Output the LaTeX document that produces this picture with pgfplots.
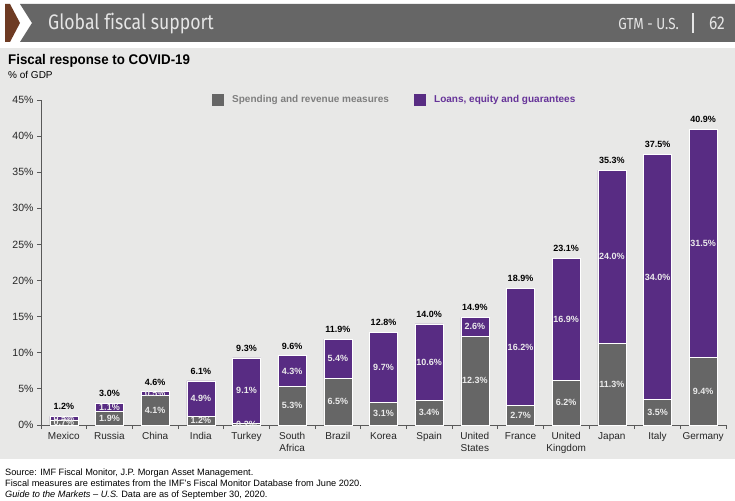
\documentclass[border=0pt]{standalone}
\usepackage{pgfplots}
\pgfplotsset{compat=1.18}
\usepackage{pgfplotstable}
\usepackage{fontspec}
\setmainfont{Liberation Sans}
\newfontfamily\hdrfont[FakeStretch=0.84,Ligatures=NoCommon]{Fira Sans}
\newfontfamily\titlefont[FakeStretch=0.95]{Liberation Sans}
\definecolor{barGray}{HTML}{666666}
\definecolor{barPurple}{HTML}{582C83}
\definecolor{panel}{HTML}{E8E8E7}
\definecolor{hdr}{HTML}{666666}
\definecolor{chev}{HTML}{6E3B23}
\definecolor{legGray}{HTML}{7F7F7F}
\definecolor{legPurple}{HTML}{663399}

\pgfplotstableread{
x S L T sm lm
0 0.7 0.5 1.2 0.35 0.95
1 1.9 1.1 3.0 0.95 2.45
2 4.1 0.5 4.6 2.05 4.35
3 1.2 4.9 6.1 0.6 3.65
4 0.2 9.1 9.3 0.1 4.75
5 5.3 4.3 9.6 2.65 7.45
6 6.5 5.4 11.9 3.25 9.2
7 3.1 9.7 12.8 1.55 7.95
8 3.4 10.6 14.0 1.7 8.7
9 12.3 2.6 14.9 6.15 13.6
10 2.7 16.2 18.9 1.35 10.8
11 6.2 16.9 23.1 3.1 14.65
12 11.3 24.0 35.3 5.65 23.3
13 3.5 34.0 37.5 1.75 20.5
14 9.4 31.5 40.9 4.7 25.15
}\data

\begin{document}
\begin{tikzpicture}[x=1pt,y=1pt]
\fill[white] (0,0) rectangle (735,500);
% header
\fill[hdr] (20,496) -- (735,496) -- (735,458) -- (20,458) -- (32,477) -- cycle;
\fill[chev] (5,496) -- (10,496) -- (20,477) -- (10,458) -- (5,458) -- cycle;
\node[anchor=base west, text=white!90!black, font=\hdrfont\fontsize{21}{23}\selectfont, inner sep=0] at (48,470) {Global fiscal support};
\node[anchor=base east, text=white!90!black, font=\hdrfont\fontsize{16}{18}\selectfont, inner sep=0] at (679,470) {GTM - U.S.};
\draw[white!90!black, line width=1.3pt] (693,467) -- (693,487);
\node[anchor=base east, text=white!90!black, font=\hdrfont\fontsize{18.5}{20}\selectfont, inner sep=0] at (725,470) {62};
% panel
\fill[panel] (0,41) rectangle (735,452);
\node[anchor=base west, font=\titlefont\bfseries\fontsize{14}{16}\selectfont, inner sep=0] at (8,435) {Fiscal response to COVID-19};
\node[anchor=base west, font=\fontsize{10}{12}\selectfont, inner sep=0] at (8,421) {\% of GDP};
% legend
\fill[barGray] (212,394) rectangle (224,406);
\node[anchor=west, text=legGray, font=\bfseries\fontsize{10}{12}\selectfont, inner sep=0] at (232,400) {Spending and revenue measures};
\fill[barPurple] (414,394) rectangle (426,406);
\node[anchor=west, text=legPurple, font=\bfseries\fontsize{10}{12}\selectfont, inner sep=0] at (434,400) {Loans, equity and guarantees};

\begin{axis}[
  at={(41pt,75pt)}, anchor=south west,
  scale only axis, width=685pt, height=325pt,
  xmin=-0.5, xmax=14.5, ymin=0, ymax=45,
  ybar stacked, bar width=28pt,
  axis x line*=bottom, axis y line*=left,
  axis line style={draw=black!65, line width=0.8pt},
  xtick={0,...,14},
  xticklabels={Mexico,Russia,China,India,Turkey,{South\\Africa},Brazil,Korea,Spain,{United\\States},France,{United\\Kingdom},Japan,Italy,Germany},
  major x tick style={draw=none},
  minor xtick={-0.5,0.5,...,14.5},
  minor x tick style={draw=black!65, line width=0.8pt},
  minor tick length=4pt, major tick length=4pt,
  ytick={0,5,...,45},
  yticklabels={0\%,5\%,10\%,15\%,20\%,25\%,30\%,35\%,40\%,45\%},
  y tick style={draw=black!65, line width=0.8pt},
  tick align=outside,
  xticklabel style={align=center, font=\fontsize{10}{12}\selectfont, text=black!85},
  yticklabel style={font=\fontsize{10.5}{12}\selectfont, text=black!85},
  clip=false,
]
\addplot[fill=barGray, draw=white, line width=0.6pt] table[x=x,y=S]{\data};
\addplot[fill=barPurple, draw=white, line width=0.6pt] table[x=x,y=L]{\data};
\end{axis}

\begin{axis}[
  at={(41pt,75pt)}, anchor=south west,
  scale only axis, width=685pt, height=325pt,
  xmin=-0.5, xmax=14.5, ymin=0, ymax=45,
  hide axis, clip=false,
  /pgf/number format/.cd, fixed, fixed zerofill, precision=1, assume math mode=true,
]
\addplot[draw=none, mark=none, point meta=explicit,
  nodes near coords={\pgfmathprintnumber{\pgfplotspointmeta}\%},
  nodes near coords style={anchor=center, text=white!92!black, font=\bfseries\fontsize{9}{10}\selectfont}]
  table[x=x,y=sm,meta=S]{\data};
\addplot[draw=none, mark=none, point meta=explicit,
  nodes near coords={\pgfmathprintnumber{\pgfplotspointmeta}\%},
  nodes near coords style={anchor=center, text=white!92!black, font=\bfseries\fontsize{9}{10}\selectfont}]
  table[x=x,y=lm,meta=L]{\data};
\addplot[draw=none, mark=none, point meta=explicit,
  nodes near coords={\pgfmathprintnumber{\pgfplotspointmeta}\%},
  nodes near coords style={anchor=south, yshift=3pt, text=black, font=\bfseries\fontsize{9}{10}\selectfont}]
  table[x=x,y=T,meta=T]{\data};
\end{axis}

% footer
\node[anchor=base west, font=\fontsize{9.2}{10}\selectfont, inner sep=0] at (5,24) {Source: IMF Fiscal Monitor, J.P. Morgan Asset Management.};
\node[anchor=base west, font=\fontsize{9.2}{10}\selectfont, inner sep=0] at (5,13.5) {Fiscal measures are estimates from the IMF's Fiscal Monitor Database from June 2020.};
\node[anchor=base west, font=\fontsize{9.2}{10}\selectfont, inner sep=0] at (5,3) {\textit{Guide to the Markets – U.S.} Data are as of September 30, 2020.};
\end{tikzpicture}
\end{document}
